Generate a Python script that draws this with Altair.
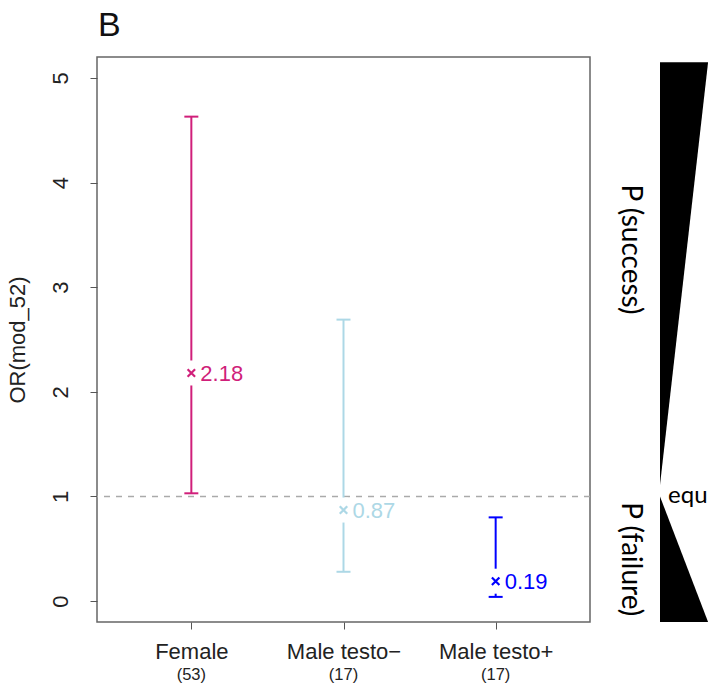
import json
import altair as alt
import pandas as pd

# ---- data ----
groups = ["Female", "Male testo\u2212", "Male testo+"]
counts = ["(53)", "(17)", "(17)"]
positions = [1, 2, 3]
estimate = [2.18, 0.87, 0.19]
lower_ci = [1.03, 0.28, 0.04]
upper_ci = [4.63, 2.69, 0.80]
value_labels = ["2.18", "0.87", "0.19"]
colors = ["#D01F7A", "#ADD8E6", "#0000FF"]
reference_or = [1.0]

# panel letter, placed above the panel's top-left corner
panel_letter = ["B"]
panel_letter_x = [0.38]
panel_letter_y = [5.40]

# right-hand annotation: wedges drawn in OR units beside the panel
wedge_up_x = [4.08, 4.396]
wedge_up_top = [5.15, 5.15]
wedge_up_bottom = [1.11, 5.15]
wedge_down_x = [4.08, 4.396]
wedge_down_top = [1.0, -0.2]
wedge_down_bottom = [-0.2, -0.2]
side_text = ["P (success)", "P (failure)"]
side_text_x = [3.883, 3.883]
side_text_y = [3.36, 0.40]
equal_text = ["equ"]
equal_text_x = [4.133]
equal_text_y = [1.0]

FONT = "Liberation Sans"
main = pd.DataFrame({
    "x": positions, "group": groups, "count": counts, "est": estimate,
    "lower": lower_ci, "upper": upper_ci, "label": value_labels,
})

xs = alt.Scale(domain=[0.38, 3.62], nice=False, zero=False)
ys = alt.Scale(domain=[-0.2, 5.2], nice=False, zero=False)
label_expr = "%s[datum.value - 1]" % json.dumps(groups, ensure_ascii=False)
xaxis = alt.Axis(values=positions, labelExpr=label_expr, title=None, grid=False,
                 domain=False, tickSize=7, tickColor="#555", labelFontSize=22,
                 labelFont=FONT, labelColor="#222", labelPadding=12)
yaxis = alt.Axis(values=[0, 1, 2, 3, 4, 5], title="OR(mod_52)", grid=False, domain=False,
                 tickSize=7, tickColor="#555", labelFontSize=22, labelFont=FONT,
                 labelColor="#222", labelAngle=270, labelAlign="center",
                 labelBaseline="alphabetic", labelPadding=23,
                 titleFont=FONT, titleFontSize=22, titleFontWeight="normal",
                 titleColor="#222", titlePadding=20)
color = alt.Color("group:N", scale=alt.Scale(domain=groups, range=colors), legend=None)


def X(field="x"):
    return alt.X(f"{field}:Q", scale=xs, axis=xaxis)


def Y(field):
    return alt.Y(f"{field}:Q", scale=ys, axis=yaxis)


base = alt.Chart(main)

ref = alt.Chart(pd.DataFrame({"r": reference_or})).mark_rule(
    color="#AAAAAA", strokeDash=[6, 6], strokeWidth=1.5
).encode(y=Y("r"))

bars = base.mark_rule(strokeWidth=2).encode(x=X(), y=Y("lower"), y2="upper:Q", color=color)
cap_lo = base.mark_rule(strokeWidth=2, xOffset=-7, x2Offset=7).encode(
    x=X(), x2="x:Q", y=Y("lower"), color=color)
cap_hi = base.mark_rule(strokeWidth=2, xOffset=-7, x2Offset=7).encode(
    x=X(), x2="x:Q", y=Y("upper"), color=color)
mask = base.mark_point(shape="M-0.35,-1L0.35,-1L0.35,1L-0.35,1Z", filled=True,
                       color="white", opacity=1, size=625, strokeWidth=0).encode(
    x=X(), y=Y("est"))
cross = base.mark_point(shape="M-1,-1L1,1M1,-1L-1,1", filled=False, size=56,
                        strokeWidth=2.2, opacity=1).encode(x=X(), y=Y("est"), color=color)
labels = base.mark_text(align="left", baseline="middle", dx=9, dy=1, fontSize=22,
                        font=FONT).encode(
    x=X(), y=Y("est"), text="label:N", color=color)
count_txt = base.mark_text(align="center", baseline="alphabetic", fontSize=16.5,
                           font=FONT, color="#222").encode(
    x=X(), y=alt.value(623), text="count:N")

letter = alt.Chart(pd.DataFrame({"tx": panel_letter_x, "ty": panel_letter_y, "t": panel_letter})
                   ).mark_text(align="left", baseline="alphabetic", fontSize=34, font=FONT,
                               color="#111", dx=1).encode(x=X("tx"), y=Y("ty"), text="t:N")

up = alt.Chart(pd.DataFrame({"wx": wedge_up_x, "wy": wedge_up_top, "wy2": wedge_up_bottom})
               ).mark_area(color="black", opacity=1).encode(x=X("wx"), y=Y("wy"), y2="wy2:Q")
down = alt.Chart(pd.DataFrame({"wx": wedge_down_x, "wy": wedge_down_top, "wy2": wedge_down_bottom})
                 ).mark_area(color="black", opacity=1).encode(x=X("wx"), y=Y("wy"), y2="wy2:Q")
side = alt.Chart(pd.DataFrame({"tx": side_text_x, "ty": side_text_y, "t": side_text})
                 ).mark_text(angle=90, align="center", baseline="middle", fontSize=28,
                             font="Lato", color="black").encode(
    x=X("tx"), y=Y("ty"), text="t:N")
equ = alt.Chart(pd.DataFrame({"tx": equal_text_x, "ty": equal_text_y, "t": equal_text})
                ).mark_text(align="left", baseline="middle", fontSize=24, font="Lato",
                            color="black").encode(x=X("tx"), y=Y("ty"), text="t:N")

chart = alt.layer(ref, bars, cap_lo, cap_hi, mask, cross, labels, count_txt, letter,
                  up, down, side, equ).properties(
    width=493, height=565,
    background="white",
    padding={"left": 5, "top": 9, "right": 0, "bottom": 0},
).configure_view(stroke="#666", strokeWidth=1.5)

chart.save("out.html", embed_options={"renderer": "svg", "actions": False})
